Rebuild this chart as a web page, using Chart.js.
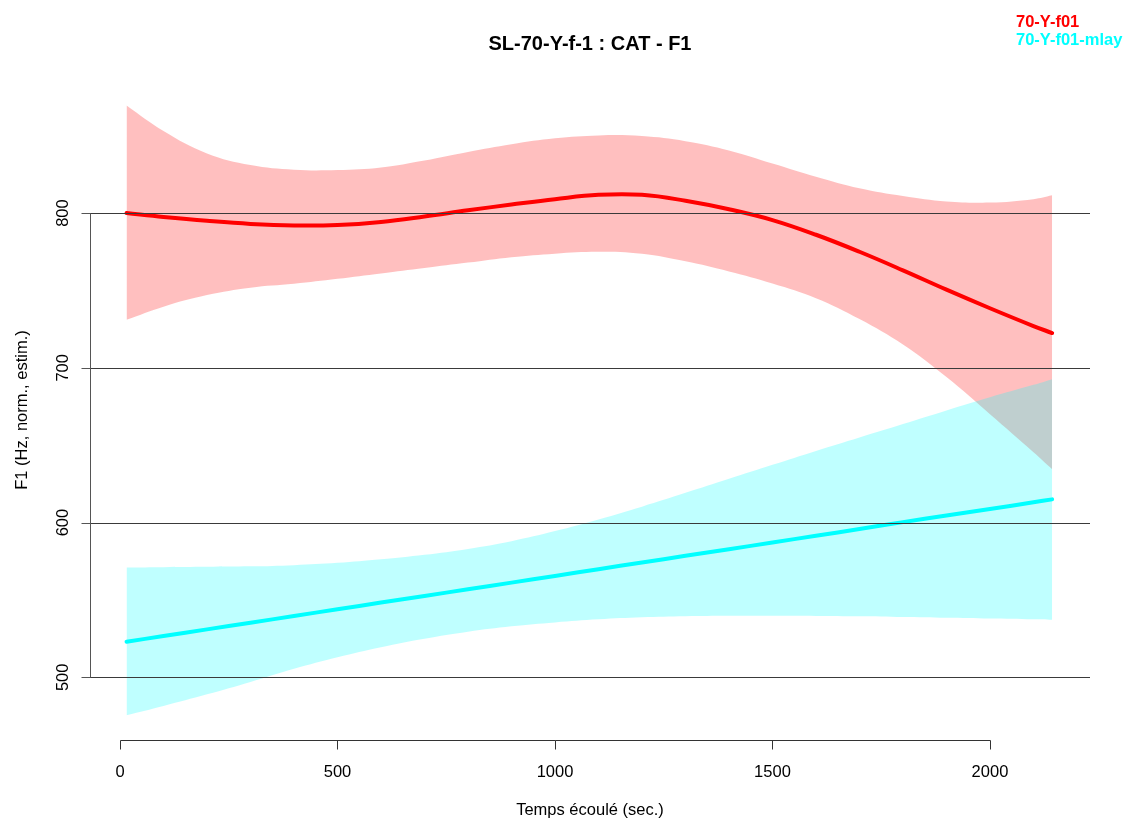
<!DOCTYPE html>
<html>
<head>
<meta charset="utf-8">
<script src="https://cdn.jsdelivr.net/npm/chart.js@4"></script>
<style>
  html, body { margin: 0; padding: 0; background: #ffffff; }
  #c { display: block; }
</style>
</head>
<body>
<canvas id="c" width="1128" height="820"></canvas>
<script>
// ---- data ----
const chartTitle = 'SL-70-Y-f-1 : CAT - F1';
const xTitle = 'Temps écoulé (sec.)';
const yTitle = 'F1 (Hz, norm., estim.)';
const seriesNames = ['70-Y-f01', '70-Y-f01-mlay'];

const timeSec = [15, 100, 200, 300, 400, 500, 600, 700, 800, 900, 1000, 1100,
                 1200, 1300, 1400, 1500, 1600, 1700, 1800, 1900, 2000, 2100, 2143];

const redMean  = [800, 797.5, 795, 793, 792, 792.3, 794.3, 797.8, 801.8, 805.5, 809, 811.8,
                  811.8, 808, 802.5, 795.5, 786, 775, 763, 750.5, 738.5, 727, 722.5];
const redUpper = [869.5, 853, 838.5, 831, 828, 827.8, 829.5, 834, 839.5, 844.5, 848.3, 850.2,
                  849.8, 846.5, 840.5, 832, 823.5, 816, 811, 807.5, 806.8, 809, 811.5];
const redLower = [731, 739.5, 747, 751.8, 754.3, 757.5, 761, 764.5, 768, 771.5, 773.8, 775,
                  773.7, 768.8, 762.3, 754.5, 745, 731.5, 715, 694, 670, 645.5, 634.5];

const cyanMean  = [523, 526.7, 531, 535.3, 539.6, 544, 548.3, 552.6, 556.9, 561.2, 565.5, 569.9,
                   574.2, 578.5, 582.8, 587.1, 591.5, 595.8, 600.3, 604.6, 608.8, 613.1, 615];
const cyanUpper = [571, 571.2, 571.4, 571.7, 572.5, 574, 576.3, 579.2, 583, 588, 594.5, 602,
                   610.3, 619.2, 628.3, 637.3, 646.3, 655, 663.7, 672.5, 681, 689, 692.7];
const cyanLower = [475.5, 481.5, 489, 497, 505.5, 513, 519.5, 525, 529.5, 533, 535.5, 537.5,
                   538.8, 539.5, 539.8, 539.8, 539.7, 539.5, 539, 538.5, 538, 537.5, 537.2];

const xTicks = [0, 500, 1000, 1500, 2000];
const yTicks = [500, 600, 700, 800];

// ---- helpers ----
const pts = (ys) => timeSec.map((x, i) => ({ x: x, y: ys[i] }));
const FONT = '"Liberation Sans", Arial, Helvetica, sans-serif';

const rAxesPlugin = {
  id: 'rAxes',
  afterDatasetsDraw(chart) {
    const ctx = chart.ctx;
    const ys = chart.scales.y;
    const a = chart.chartArea;
    ctx.save();
    ctx.strokeStyle = '#3a3a3a';
    ctx.lineWidth = 1;
    yTicks.forEach(v => {
      const y = Math.round(ys.getPixelForValue(v)) + 0.5;
      ctx.beginPath();
      ctx.moveTo(a.left, y);
      ctx.lineTo(a.right, y);
      ctx.stroke();
    });
    ctx.restore();
  },
  afterDraw(chart) {
    const ctx = chart.ctx;
    const xs = chart.scales.x, ys = chart.scales.y;
    const a = chart.chartArea;
    ctx.save();
    ctx.lineWidth = 1;
    const tickLen = 9;

    // y axis
    const yx = Math.round(a.left) + 0.5;
    const yTop = ys.getPixelForValue(yTicks[yTicks.length - 1]);
    const yBot = ys.getPixelForValue(yTicks[0]);
    ctx.strokeStyle = '#555555';
    ctx.beginPath();
    ctx.moveTo(yx, Math.round(yTop) + 0.5);
    ctx.lineTo(yx, Math.round(yBot) + 0.5);
    ctx.stroke();
    yTicks.forEach(v => {
      const y = Math.round(ys.getPixelForValue(v)) + 0.5;
      ctx.beginPath();
      ctx.moveTo(yx - tickLen, y);
      ctx.lineTo(yx, y);
      ctx.stroke();
    });

    // x axis
    ctx.strokeStyle = '#333333';
    const xy = Math.round(a.bottom) + 0.5;
    ctx.beginPath();
    ctx.moveTo(Math.round(xs.getPixelForValue(xTicks[0])) + 0.5, xy);
    ctx.lineTo(Math.round(xs.getPixelForValue(xTicks[xTicks.length - 1])) + 0.5, xy);
    ctx.stroke();
    xTicks.forEach(v => {
      const x = Math.round(xs.getPixelForValue(v)) + 0.5;
      ctx.beginPath();
      ctx.moveTo(x, xy);
      ctx.lineTo(x, xy + tickLen);
      ctx.stroke();
    });

    // x tick labels
    ctx.font = '16.5px ' + FONT;
    ctx.textAlign = 'center';
    ctx.textBaseline = 'alphabetic';
    ctx.fillStyle = '#000000';
    xTicks.forEach(v => {
      ctx.fillText(String(v), xs.getPixelForValue(v), 777);
    });

    // y tick labels (rotated)
    yTicks.forEach(v => {
      ctx.save();
      ctx.translate(68, ys.getPixelForValue(v));
      ctx.rotate(-Math.PI / 2);
      ctx.fillText(String(v), 0, 0);
      ctx.restore();
    });

    // axis titles
    const cx = (a.left + a.right) / 2;
    ctx.fillText(xTitle, cx, 815);
    ctx.save();
    ctx.translate(27, (a.top + a.bottom) / 2);
    ctx.rotate(-Math.PI / 2);
    ctx.fillText(yTitle, 0, 0);
    ctx.restore();

    // main title
    ctx.font = 'bold 20px ' + FONT;
    ctx.fillText(chartTitle, cx, 50);

    // legend text (top right)
    ctx.font = 'bold 16.5px ' + FONT;
    ctx.textAlign = 'left';
    ctx.fillStyle = '#ff0000';
    ctx.fillText(seriesNames[0], 1016, 27);
    ctx.fillStyle = '#00ffff';
    ctx.fillText(seriesNames[1], 1016, 45);
    ctx.restore();
  }
};

const bandStyle = (color) => ({
  borderWidth: 0,
  borderColor: 'rgba(0,0,0,0)',
  backgroundColor: color,
  pointRadius: 0,
  tension: 0.4
});

new Chart(document.getElementById('c'), {
  type: 'line',
  data: {
    datasets: [
      Object.assign({ label: seriesNames[0] + ' low', data: pts(redLower), fill: false, order: 6 }, bandStyle('rgba(255,0,0,0.25)')),
      Object.assign({ label: seriesNames[0] + ' high', data: pts(redUpper), fill: '-1', order: 5 }, bandStyle('rgba(255,0,0,0.25)')),
      Object.assign({ label: seriesNames[1] + ' low', data: pts(cyanLower), fill: false, order: 4 }, bandStyle('rgba(0,255,255,0.25)')),
      Object.assign({ label: seriesNames[1] + ' high', data: pts(cyanUpper), fill: '-1', order: 3 }, bandStyle('rgba(0,255,255,0.25)')),
      {
        label: seriesNames[0], data: pts(redMean), fill: false, order: 2,
        borderColor: '#ff0000', borderWidth: 4, pointRadius: 0,
        borderCapStyle: 'round', tension: 0.4
      },
      {
        label: seriesNames[1], data: pts(cyanMean), fill: false, order: 1,
        borderColor: '#00ffff', borderWidth: 4, pointRadius: 0,
        borderCapStyle: 'round', tension: 0.4
      }
    ]
  },
  options: {
    responsive: false,
    animation: false,
    devicePixelRatio: 1,
    layout: { padding: { left: 90, right: 38, top: 80, bottom: 80 } },
    scales: {
      x: { type: 'linear', min: -69, max: 2230, display: false },
      y: { type: 'linear', min: 459.5, max: 886, display: false }
    },
    plugins: {
      legend: { display: false },
      title: { display: false },
      tooltip: { enabled: false }
    }
  },
  plugins: [rAxesPlugin]
});
</script>
</body>
</html>
